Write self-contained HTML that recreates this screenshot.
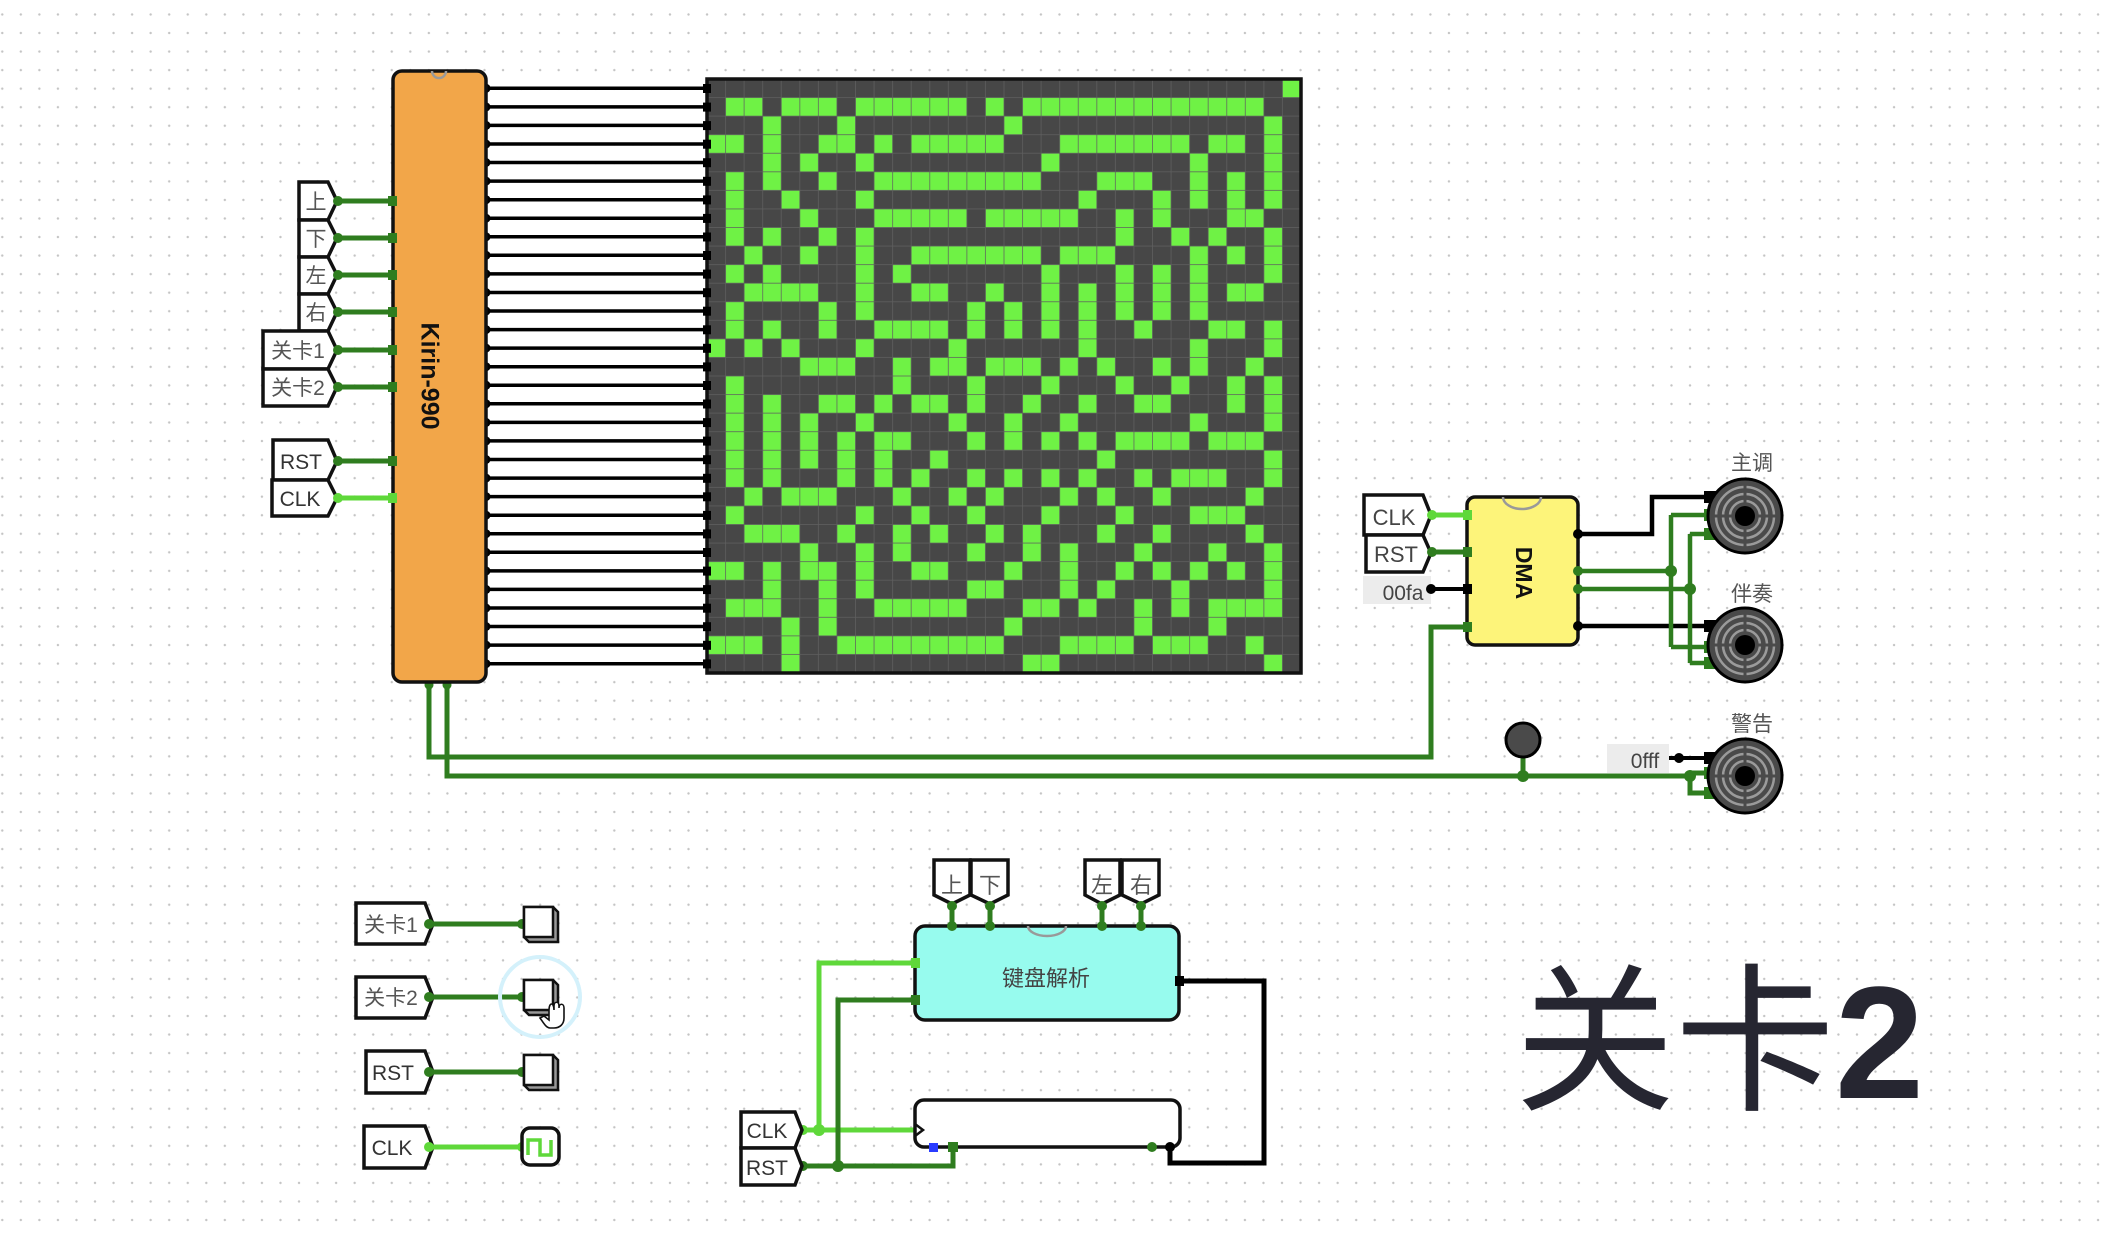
<!DOCTYPE html>
<html><head><meta charset="utf-8">
<style>
html,body{margin:0;padding:0;background:#fff;}
body{width:2108px;height:1236px;overflow:hidden;position:relative;
background-image:radial-gradient(circle,#c4c4c4 1px,transparent 1.4px);
background-size:18.56px 18.56px;background-position:-7px 5.2px;}
svg{position:absolute;left:0;top:0;}
text{font-family:"Liberation Sans","Noto Sans CJK SC",sans-serif;}
</style></head><body>
<svg width="2108" height="1236" viewBox="0 0 2108 1236" xmlns="http://www.w3.org/2000/svg">
<defs>
<pattern id="gl" width="1" height="1" patternUnits="userSpaceOnUse">
<rect width="1" height="1" fill="none" stroke="#606060" stroke-width="0.04"/>
</pattern>
<g id="spk">
<circle r="37" fill="#4a4a4a" stroke="#000" stroke-width="3"/>
<circle r="29" fill="none" stroke="#9a9a9a" stroke-width="2.5"/>
<circle r="22" fill="none" stroke="#9a9a9a" stroke-width="2.5"/>
<circle r="15" fill="none" stroke="#9a9a9a" stroke-width="2.5"/>
<line x1="-33" y1="0" x2="33" y2="0" stroke="#4a4a4a" stroke-width="3"/>
<line x1="0" y1="-33" x2="0" y2="33" stroke="#4a4a4a" stroke-width="3"/>
<circle r="10" fill="#000"/>
</g>
</defs>

<g stroke="#000" stroke-width="3.5">
<path d="M486 88.3H707M486 106.9H707M486 125.4H707M486 144H707M486 162.5H707M486 181.1H707M486 199.7H707M486 218.2H707M486 236.8H707M486 255.3H707M486 273.9H707M486 292.5H707M486 311H707M486 329.6H707M486 348.1H707M486 366.7H707M486 385.3H707M486 403.8H707M486 422.4H707M486 440.9H707M486 459.5H707M486 478.1H707M486 496.6H707M486 515.2H707M486 533.7H707M486 552.3H707M486 570.9H707M486 589.4H707M486 608H707M486 626.5H707M486 645.1H707M486 663.7H707"/>
</g>

<svg x="707" y="79" width="594" height="594" viewBox="0 0 32 32" preserveAspectRatio="none">
<rect width="32" height="32" fill="#474747"/>
<g fill="#6ff245">
<rect x="31" y="0" width="1" height="1"/>
<rect x="1" y="1" width="2" height="1"/><rect x="4" y="1" width="3" height="1"/><rect x="8" y="1" width="6" height="1"/><rect x="15" y="1" width="1" height="1"/><rect x="17" y="1" width="13" height="1"/>
<rect x="3" y="2" width="1" height="1"/><rect x="7" y="2" width="1" height="1"/><rect x="16" y="2" width="1" height="1"/><rect x="30" y="2" width="1" height="1"/>
<rect x="0" y="3" width="2" height="1"/><rect x="3" y="3" width="1" height="1"/><rect x="6" y="3" width="2" height="1"/><rect x="9" y="3" width="1" height="1"/><rect x="11" y="3" width="5" height="1"/><rect x="19" y="3" width="7" height="1"/><rect x="27" y="3" width="2" height="1"/><rect x="30" y="3" width="1" height="1"/>
<rect x="3" y="4" width="1" height="1"/><rect x="5" y="4" width="1" height="1"/><rect x="8" y="4" width="1" height="1"/><rect x="18" y="4" width="1" height="1"/><rect x="26" y="4" width="1" height="1"/><rect x="30" y="4" width="1" height="1"/>
<rect x="1" y="5" width="1" height="1"/><rect x="3" y="5" width="1" height="1"/><rect x="6" y="5" width="1" height="1"/><rect x="9" y="5" width="9" height="1"/><rect x="21" y="5" width="3" height="1"/><rect x="26" y="5" width="1" height="1"/><rect x="28" y="5" width="1" height="1"/><rect x="30" y="5" width="1" height="1"/>
<rect x="1" y="6" width="1" height="1"/><rect x="4" y="6" width="1" height="1"/><rect x="8" y="6" width="1" height="1"/><rect x="20" y="6" width="1" height="1"/><rect x="24" y="6" width="1" height="1"/><rect x="26" y="6" width="1" height="1"/><rect x="28" y="6" width="1" height="1"/><rect x="30" y="6" width="1" height="1"/>
<rect x="1" y="7" width="1" height="1"/><rect x="5" y="7" width="1" height="1"/><rect x="9" y="7" width="5" height="1"/><rect x="15" y="7" width="5" height="1"/><rect x="22" y="7" width="1" height="1"/><rect x="24" y="7" width="1" height="1"/><rect x="28" y="7" width="2" height="1"/>
<rect x="1" y="8" width="1" height="1"/><rect x="3" y="8" width="1" height="1"/><rect x="6" y="8" width="1" height="1"/><rect x="8" y="8" width="1" height="1"/><rect x="22" y="8" width="1" height="1"/><rect x="25" y="8" width="1" height="1"/><rect x="27" y="8" width="1" height="1"/><rect x="30" y="8" width="1" height="1"/>
<rect x="2" y="9" width="1" height="1"/><rect x="5" y="9" width="1" height="1"/><rect x="8" y="9" width="1" height="1"/><rect x="11" y="9" width="7" height="1"/><rect x="19" y="9" width="3" height="1"/><rect x="26" y="9" width="1" height="1"/><rect x="28" y="9" width="1" height="1"/><rect x="30" y="9" width="1" height="1"/>
<rect x="1" y="10" width="1" height="1"/><rect x="3" y="10" width="1" height="1"/><rect x="8" y="10" width="1" height="1"/><rect x="10" y="10" width="1" height="1"/><rect x="18" y="10" width="1" height="1"/><rect x="22" y="10" width="1" height="1"/><rect x="24" y="10" width="1" height="1"/><rect x="26" y="10" width="1" height="1"/><rect x="30" y="10" width="1" height="1"/>
<rect x="2" y="11" width="4" height="1"/><rect x="8" y="11" width="1" height="1"/><rect x="11" y="11" width="2" height="1"/><rect x="15" y="11" width="1" height="1"/><rect x="18" y="11" width="1" height="1"/><rect x="20" y="11" width="1" height="1"/><rect x="22" y="11" width="1" height="1"/><rect x="24" y="11" width="1" height="1"/><rect x="26" y="11" width="1" height="1"/><rect x="28" y="11" width="2" height="1"/>
<rect x="1" y="12" width="1" height="1"/><rect x="6" y="12" width="1" height="1"/><rect x="8" y="12" width="1" height="1"/><rect x="14" y="12" width="1" height="1"/><rect x="16" y="12" width="1" height="1"/><rect x="18" y="12" width="1" height="1"/><rect x="20" y="12" width="1" height="1"/><rect x="22" y="12" width="1" height="1"/><rect x="24" y="12" width="1" height="1"/><rect x="26" y="12" width="1" height="1"/>
<rect x="1" y="13" width="1" height="1"/><rect x="3" y="13" width="1" height="1"/><rect x="6" y="13" width="1" height="1"/><rect x="9" y="13" width="4" height="1"/><rect x="14" y="13" width="1" height="1"/><rect x="16" y="13" width="1" height="1"/><rect x="18" y="13" width="1" height="1"/><rect x="20" y="13" width="1" height="1"/><rect x="23" y="13" width="1" height="1"/><rect x="27" y="13" width="2" height="1"/><rect x="30" y="13" width="1" height="1"/>
<rect x="0" y="14" width="1" height="1"/><rect x="2" y="14" width="1" height="1"/><rect x="4" y="14" width="1" height="1"/><rect x="8" y="14" width="1" height="1"/><rect x="13" y="14" width="1" height="1"/><rect x="20" y="14" width="1" height="1"/><rect x="26" y="14" width="1" height="1"/><rect x="30" y="14" width="1" height="1"/>
<rect x="5" y="15" width="3" height="1"/><rect x="10" y="15" width="1" height="1"/><rect x="12" y="15" width="2" height="1"/><rect x="15" y="15" width="3" height="1"/><rect x="19" y="15" width="1" height="1"/><rect x="21" y="15" width="1" height="1"/><rect x="24" y="15" width="1" height="1"/><rect x="26" y="15" width="1" height="1"/><rect x="29" y="15" width="1" height="1"/>
<rect x="1" y="16" width="1" height="1"/><rect x="10" y="16" width="1" height="1"/><rect x="14" y="16" width="1" height="1"/><rect x="18" y="16" width="1" height="1"/><rect x="22" y="16" width="1" height="1"/><rect x="25" y="16" width="1" height="1"/><rect x="28" y="16" width="1" height="1"/><rect x="30" y="16" width="1" height="1"/>
<rect x="1" y="17" width="1" height="1"/><rect x="3" y="17" width="1" height="1"/><rect x="6" y="17" width="2" height="1"/><rect x="9" y="17" width="1" height="1"/><rect x="11" y="17" width="2" height="1"/><rect x="14" y="17" width="1" height="1"/><rect x="17" y="17" width="1" height="1"/><rect x="20" y="17" width="1" height="1"/><rect x="23" y="17" width="2" height="1"/><rect x="28" y="17" width="1" height="1"/><rect x="30" y="17" width="1" height="1"/>
<rect x="1" y="18" width="1" height="1"/><rect x="3" y="18" width="1" height="1"/><rect x="5" y="18" width="1" height="1"/><rect x="8" y="18" width="1" height="1"/><rect x="13" y="18" width="1" height="1"/><rect x="16" y="18" width="1" height="1"/><rect x="19" y="18" width="1" height="1"/><rect x="26" y="18" width="1" height="1"/><rect x="30" y="18" width="1" height="1"/>
<rect x="1" y="19" width="1" height="1"/><rect x="3" y="19" width="1" height="1"/><rect x="5" y="19" width="1" height="1"/><rect x="7" y="19" width="1" height="1"/><rect x="9" y="19" width="2" height="1"/><rect x="14" y="19" width="1" height="1"/><rect x="16" y="19" width="1" height="1"/><rect x="18" y="19" width="1" height="1"/><rect x="20" y="19" width="1" height="1"/><rect x="22" y="19" width="4" height="1"/><rect x="27" y="19" width="3" height="1"/>
<rect x="1" y="20" width="1" height="1"/><rect x="3" y="20" width="1" height="1"/><rect x="5" y="20" width="1" height="1"/><rect x="7" y="20" width="1" height="1"/><rect x="9" y="20" width="1" height="1"/><rect x="12" y="20" width="1" height="1"/><rect x="21" y="20" width="1" height="1"/><rect x="30" y="20" width="1" height="1"/>
<rect x="1" y="21" width="1" height="1"/><rect x="3" y="21" width="1" height="1"/><rect x="7" y="21" width="1" height="1"/><rect x="9" y="21" width="1" height="1"/><rect x="11" y="21" width="1" height="1"/><rect x="14" y="21" width="1" height="1"/><rect x="16" y="21" width="1" height="1"/><rect x="18" y="21" width="1" height="1"/><rect x="20" y="21" width="1" height="1"/><rect x="23" y="21" width="1" height="1"/><rect x="25" y="21" width="3" height="1"/><rect x="30" y="21" width="1" height="1"/>
<rect x="2" y="22" width="1" height="1"/><rect x="4" y="22" width="3" height="1"/><rect x="10" y="22" width="1" height="1"/><rect x="13" y="22" width="1" height="1"/><rect x="15" y="22" width="1" height="1"/><rect x="19" y="22" width="1" height="1"/><rect x="21" y="22" width="1" height="1"/><rect x="24" y="22" width="1" height="1"/><rect x="29" y="22" width="1" height="1"/>
<rect x="1" y="23" width="1" height="1"/><rect x="8" y="23" width="1" height="1"/><rect x="11" y="23" width="1" height="1"/><rect x="14" y="23" width="1" height="1"/><rect x="18" y="23" width="1" height="1"/><rect x="22" y="23" width="1" height="1"/><rect x="26" y="23" width="3" height="1"/>
<rect x="2" y="24" width="3" height="1"/><rect x="7" y="24" width="1" height="1"/><rect x="10" y="24" width="1" height="1"/><rect x="12" y="24" width="1" height="1"/><rect x="15" y="24" width="1" height="1"/><rect x="17" y="24" width="1" height="1"/><rect x="21" y="24" width="1" height="1"/><rect x="24" y="24" width="1" height="1"/><rect x="29" y="24" width="1" height="1"/>
<rect x="5" y="25" width="1" height="1"/><rect x="8" y="25" width="1" height="1"/><rect x="10" y="25" width="1" height="1"/><rect x="14" y="25" width="1" height="1"/><rect x="17" y="25" width="1" height="1"/><rect x="19" y="25" width="1" height="1"/><rect x="23" y="25" width="1" height="1"/><rect x="27" y="25" width="1" height="1"/><rect x="30" y="25" width="1" height="1"/>
<rect x="0" y="26" width="2" height="1"/><rect x="3" y="26" width="1" height="1"/><rect x="5" y="26" width="2" height="1"/><rect x="8" y="26" width="1" height="1"/><rect x="11" y="26" width="2" height="1"/><rect x="16" y="26" width="1" height="1"/><rect x="19" y="26" width="1" height="1"/><rect x="22" y="26" width="1" height="1"/><rect x="24" y="26" width="1" height="1"/><rect x="26" y="26" width="1" height="1"/><rect x="28" y="26" width="1" height="1"/><rect x="30" y="26" width="1" height="1"/>
<rect x="3" y="27" width="1" height="1"/><rect x="6" y="27" width="1" height="1"/><rect x="8" y="27" width="1" height="1"/><rect x="14" y="27" width="2" height="1"/><rect x="19" y="27" width="1" height="1"/><rect x="21" y="27" width="1" height="1"/><rect x="25" y="27" width="1" height="1"/><rect x="30" y="27" width="1" height="1"/>
<rect x="1" y="28" width="3" height="1"/><rect x="6" y="28" width="1" height="1"/><rect x="9" y="28" width="5" height="1"/><rect x="17" y="28" width="2" height="1"/><rect x="20" y="28" width="1" height="1"/><rect x="23" y="28" width="1" height="1"/><rect x="25" y="28" width="1" height="1"/><rect x="27" y="28" width="3" height="1"/><rect x="30" y="28" width="1" height="1"/>
<rect x="4" y="29" width="1" height="1"/><rect x="6" y="29" width="1" height="1"/><rect x="16" y="29" width="1" height="1"/><rect x="23" y="29" width="1" height="1"/><rect x="27" y="29" width="1" height="1"/>
<rect x="0" y="30" width="3" height="1"/><rect x="4" y="30" width="1" height="1"/><rect x="7" y="30" width="9" height="1"/><rect x="19" y="30" width="4" height="1"/><rect x="24" y="30" width="3" height="1"/><rect x="29" y="30" width="1" height="1"/>
<rect x="4" y="31" width="1" height="1"/><rect x="17" y="31" width="2" height="1"/><rect x="30" y="31" width="1" height="1"/>
</g>
<rect width="32" height="32" fill="url(#gl)"/>
</svg>
<rect x="707" y="79" width="594" height="594" fill="none" stroke="#111" stroke-width="3.5"/>

<g fill="#000">
<circle cx="486" cy="88.3" r="4.5"/><circle cx="486" cy="106.9" r="4.5"/><circle cx="486" cy="125.4" r="4.5"/><circle cx="486" cy="144" r="4.5"/><circle cx="486" cy="162.5" r="4.5"/><circle cx="486" cy="181.1" r="4.5"/><circle cx="486" cy="199.7" r="4.5"/><circle cx="486" cy="218.2" r="4.5"/><circle cx="486" cy="236.8" r="4.5"/><circle cx="486" cy="255.3" r="4.5"/><circle cx="486" cy="273.9" r="4.5"/><circle cx="486" cy="292.5" r="4.5"/><circle cx="486" cy="311" r="4.5"/><circle cx="486" cy="329.6" r="4.5"/><circle cx="486" cy="348.1" r="4.5"/><circle cx="486" cy="366.7" r="4.5"/><circle cx="486" cy="385.3" r="4.5"/><circle cx="486" cy="403.8" r="4.5"/><circle cx="486" cy="422.4" r="4.5"/><circle cx="486" cy="440.9" r="4.5"/><circle cx="486" cy="459.5" r="4.5"/><circle cx="486" cy="478.1" r="4.5"/><circle cx="486" cy="496.6" r="4.5"/><circle cx="486" cy="515.2" r="4.5"/><circle cx="486" cy="533.7" r="4.5"/><circle cx="486" cy="552.3" r="4.5"/><circle cx="486" cy="570.9" r="4.5"/><circle cx="486" cy="589.4" r="4.5"/><circle cx="486" cy="608" r="4.5"/><circle cx="486" cy="626.5" r="4.5"/><circle cx="486" cy="645.1" r="4.5"/><circle cx="486" cy="663.7" r="4.5"/>
</g>
<g fill="#000">
<rect x="703" y="84" width="8" height="9"/><rect x="703" y="102.6" width="8" height="9"/><rect x="703" y="121.1" width="8" height="9"/><rect x="703" y="139.7" width="8" height="9"/><rect x="703" y="158.2" width="8" height="9"/><rect x="703" y="176.8" width="8" height="9"/><rect x="703" y="195.4" width="8" height="9"/><rect x="703" y="213.9" width="8" height="9"/><rect x="703" y="232.5" width="8" height="9"/><rect x="703" y="251" width="8" height="9"/><rect x="703" y="269.6" width="8" height="9"/><rect x="703" y="288.2" width="8" height="9"/><rect x="703" y="306.7" width="8" height="9"/><rect x="703" y="325.3" width="8" height="9"/><rect x="703" y="343.8" width="8" height="9"/><rect x="703" y="362.4" width="8" height="9"/><rect x="703" y="381" width="8" height="9"/><rect x="703" y="399.5" width="8" height="9"/><rect x="703" y="418.1" width="8" height="9"/><rect x="703" y="436.6" width="8" height="9"/><rect x="703" y="455.2" width="8" height="9"/><rect x="703" y="473.8" width="8" height="9"/><rect x="703" y="492.3" width="8" height="9"/><rect x="703" y="510.9" width="8" height="9"/><rect x="703" y="529.4" width="8" height="9"/><rect x="703" y="548" width="8" height="9"/><rect x="703" y="566.6" width="8" height="9"/><rect x="703" y="585.1" width="8" height="9"/><rect x="703" y="603.7" width="8" height="9"/><rect x="703" y="622.2" width="8" height="9"/><rect x="703" y="640.8" width="8" height="9"/><rect x="703" y="659.4" width="8" height="9"/>
</g>

<g fill="none" stroke-width="5" stroke-linejoin="miter">
<path d="M429 682V757H1431V627H1467" stroke="#2f7d1f"/>
<path d="M447 682V776H1690" stroke="#2f7d1f"/>
<path d="M1523 740V776" stroke="#2f7d1f"/>
<path d="M1690 776V793H1712M1690 776V773H1712" stroke="#2f7d1f"/>
</g>
<circle cx="1523" cy="776" r="6" fill="#2f7d1f"/>
<circle cx="1690" cy="776" r="6" fill="#2f7d1f"/>
<circle cx="429" cy="685" r="4.5" fill="#2f7d1f"/><circle cx="447" cy="685" r="4.5" fill="#2f7d1f"/>

<rect x="393" y="71" width="93" height="611" rx="9" fill="#f2a649" stroke="#111" stroke-width="3.5"/>
<path d="M432 71a7 7 0 0 0 14 0" fill="none" stroke="#999" stroke-width="2.5"/>
<text transform="translate(428,376) rotate(90)" text-anchor="middle" font-size="25" font-weight="bold" fill="#111" dominant-baseline="middle">Kirin-990</text>

<g fill="#fff" stroke="#111" stroke-width="3.5">
<path d="M299 182H328L337 201L328 220H299Z"/>
<path d="M299 220H328L337 238L328 257H299Z"/>
<path d="M299 257H328L337 275L328 294H299Z"/>
<path d="M299 294H328L337 312L328 331H299Z"/>
<path d="M263 331H328L337 350L328 369H263Z"/>
<path d="M263 369H328L337 387L328 406H263Z"/>
<path d="M273 440H328L337 461L328 480H273Z"/>
<path d="M272 480H328L337 498L328 516H272Z"/>
</g>
<g font-size="21" fill="#555" text-anchor="middle">
<text x="316" y="209">上</text><text x="316" y="246">下</text><text x="316" y="283">左</text><text x="316" y="320">右</text>
<text x="298" y="358">关卡1</text><text x="298" y="395">关卡2</text>
<text x="301" y="469" fill="#333">RST</text><text x="300" y="506" fill="#333">CLK</text>
</g>
<g stroke-width="5">
<path d="M337 201H393M337 238H393M337 275H393M337 312H393M337 350H393M337 387H393M337 461H393" stroke="#2f7d1f"/>
<path d="M337 498H393" stroke="#5fd83a"/>
</g>
<g fill="#2f7d1f">
<circle cx="338" cy="201" r="5"/><circle cx="338" cy="238" r="5"/><circle cx="338" cy="275" r="5"/><circle cx="338" cy="312" r="5"/><circle cx="338" cy="350" r="5"/><circle cx="338" cy="387" r="5"/><circle cx="338" cy="461" r="5"/>
<rect x="388" y="196" width="9" height="10"/><rect x="388" y="233" width="9" height="10"/><rect x="388" y="270" width="9" height="10"/><rect x="388" y="307" width="9" height="10"/><rect x="388" y="345" width="9" height="10"/><rect x="388" y="382" width="9" height="10"/><rect x="388" y="456" width="9" height="10"/>
</g>
<circle cx="338" cy="498" r="5" fill="#5fd83a"/><rect x="388" y="493" width="9" height="10" fill="#5fd83a"/>

<g fill="#fff" stroke="#111" stroke-width="3.5">
<path d="M1364 495H1423L1431 515L1423 535H1364Z"/>
<path d="M1366 535H1423L1431 553L1423 572H1366Z"/>
</g>
<rect x="1363" y="576" width="68" height="28" fill="#ececec"/>
<text x="1394" y="525" font-size="22" fill="#444" text-anchor="middle">CLK</text>
<text x="1396" y="562" font-size="22" fill="#444" text-anchor="middle">RST</text>
<text x="1403" y="600" font-size="21" fill="#444" text-anchor="middle">00fa</text>
<path d="M1431 515H1467" stroke="#5fd83a" stroke-width="5"/>
<path d="M1431 552H1467" stroke="#2f7d1f" stroke-width="5"/>
<path d="M1431 589H1467" stroke="#000" stroke-width="4"/>
<circle cx="1432" cy="515" r="5" fill="#5fd83a"/><circle cx="1432" cy="552" r="5" fill="#2f7d1f"/><circle cx="1431" cy="589" r="5" fill="#000"/>

<g fill="none" stroke-width="4.5">
<path d="M1578 534H1652V497H1712" stroke="#000"/>
<path d="M1578 626H1712" stroke="#000"/>
<path d="M1578 571H1671M1671 515V647M1671 515H1712M1671 647H1712" stroke="#2f7d1f"/>
<path d="M1578 589H1690M1690 534V663M1690 534H1712M1690 663H1712" stroke="#2f7d1f"/>
</g>
<circle cx="1671" cy="571" r="6" fill="#2f7d1f"/><circle cx="1690" cy="589" r="6" fill="#2f7d1f"/>

<rect x="1467" y="497" width="111" height="148" rx="8" fill="#fdf47a" stroke="#111" stroke-width="3.5"/>
<path d="M1503 497a19 12 0 0 0 38 0" fill="none" stroke="#999" stroke-width="2.5"/>
<text transform="translate(1522,573) rotate(90)" text-anchor="middle" font-size="23" font-weight="bold" fill="#111" dominant-baseline="middle">DMA</text>
<g fill="#5fd83a"><rect x="1463" y="510" width="9" height="10"/></g>
<g fill="#2f7d1f"><rect x="1463" y="547" width="9" height="10"/><rect x="1463" y="622" width="9" height="10"/><circle cx="1578" cy="571" r="5"/><circle cx="1578" cy="589" r="5"/></g>
<g fill="#000"><rect x="1463" y="584" width="9" height="10"/><circle cx="1578" cy="534" r="5"/><circle cx="1578" cy="626" r="5"/></g>

<g fill="#000"><rect x="1704" y="491" width="12" height="12"/><rect x="1704" y="620" width="12" height="12"/><rect x="1704" y="752" width="12" height="12"/></g>
<g fill="#2f7d1f"><rect x="1704" y="509" width="12" height="12"/><rect x="1704" y="528" width="12" height="12"/><rect x="1704" y="641" width="12" height="12"/><rect x="1704" y="657" width="12" height="12"/><rect x="1704" y="767" width="12" height="12"/><rect x="1704" y="787" width="12" height="12"/></g>
<use href="#spk" x="1745" y="516"/>
<use href="#spk" x="1745" y="645"/>
<use href="#spk" x="1745" y="776"/>
<g font-size="21" fill="#555" text-anchor="middle">
<text x="1752" y="470">主调</text><text x="1752" y="601">伴奏</text><text x="1752" y="731">警告</text>
</g>
<rect x="1607" y="744" width="62" height="29" fill="#ececec"/>
<text x="1645" y="768" font-size="21" fill="#444" text-anchor="middle">0fff</text>
<path d="M1669 758H1712" stroke="#000" stroke-width="4"/><circle cx="1679" cy="758" r="5" fill="#000"/>
<circle cx="1523" cy="740" r="17" fill="#4a4a4a" stroke="#000" stroke-width="3"/>

<g fill="#fff" stroke="#111" stroke-width="3.5">
<path d="M356 903H425L433 924L425 944H356Z"/>
<path d="M356 977H425L433 997L425 1018H356Z"/>
<path d="M366 1051H425L433 1072L425 1093H366Z"/>
<path d="M364 1126H425L433 1147L425 1168H364Z"/>
</g>
<g font-size="21" fill="#555" text-anchor="middle">
<text x="391" y="932">关卡1</text><text x="391" y="1005">关卡2</text>
<text x="393" y="1080" fill="#333">RST</text><text x="392" y="1155" fill="#333">CLK</text>
</g>
<path d="M433 924H522M433 997H522M433 1072H522" stroke="#2f7d1f" stroke-width="5"/>
<path d="M433 1147H522" stroke="#5fd83a" stroke-width="5"/>
<g fill="#2f7d1f"><circle cx="429" cy="924" r="5"/><circle cx="522" cy="924" r="5"/><circle cx="429" cy="997" r="5"/><circle cx="522" cy="997" r="5"/><circle cx="429" cy="1072" r="5"/><circle cx="522" cy="1072" r="5"/></g>
<circle cx="429" cy="1147" r="5" fill="#5fd83a"/><circle cx="522" cy="1147" r="5" fill="#5fd83a"/>
<circle cx="540" cy="997" r="40" fill="none" stroke="#d4f1fb" stroke-width="4"/>
<g stroke="#111" stroke-width="2.5">
<path d="M524 907H553L558 912V942H529L524 937Z" fill="#999"/><rect x="524" y="907" width="29" height="30" fill="#fff"/>
<path d="M524 980H553L558 985V1015H529L524 1010Z" fill="#999"/><rect x="524" y="980" width="29" height="30" fill="#fff"/>
<path d="M524 1055H553L558 1060V1090H529L524 1085Z" fill="#999"/><rect x="524" y="1055" width="29" height="30" fill="#fff"/>
</g>
<rect x="522" y="1128" width="37" height="37" rx="8" fill="#fff" stroke="#111" stroke-width="3.5"/>
<path d="M528 1155V1140H540V1155H551V1140" fill="none" stroke="#5fd83a" stroke-width="3.5"/>
<path d="M549 1010c0-8 5-8 5 0v-4c0-5 5-5 5 0v2c0-5 5-5 5 0v10c0 6-4 10-10 10h-4c-4 0-7-6-10-10l4-2 5 4z" fill="#fff" stroke="#111" stroke-width="1.6"/>

<g fill="none" stroke-width="5">
<path d="M819 1130V963H915" stroke="#5fd83a"/>
<path d="M800 1130H915" stroke="#5fd83a"/>
<path d="M838 1166V1000H915" stroke="#2f7d1f"/>
<path d="M800 1166H953V1148" stroke="#2f7d1f"/>
<path d="M952 903V926M990 903V926M1102 903V926M1141 903V926" stroke="#2f7d1f"/>
</g>
<path d="M1179 981H1264V1163H1170V1146" fill="none" stroke="#000" stroke-width="5"/>
<g fill="#fff" stroke="#111" stroke-width="3.5">
<path d="M934 860H970V895L952 904L934 895Z"/>
<path d="M971 860H1008V895L990 904L971 895Z"/>
<path d="M1085 860H1120V895L1102 904L1085 895Z"/>
<path d="M1122 860H1159V895L1141 904L1122 895Z"/>
</g>
<g font-size="22" fill="#555" text-anchor="middle">
<text x="952" y="893">上</text><text x="990" y="893">下</text><text x="1102" y="893">左</text><text x="1141" y="893">右</text>
</g>
<rect x="915" y="926" width="264" height="94" rx="10" fill="#97fbee" stroke="#111" stroke-width="3.5"/>
<path d="M1028 926a19 10 0 0 0 38 0" fill="none" stroke="#999" stroke-width="2.5"/>
<text x="1046" y="986" font-size="22" fill="#444" text-anchor="middle">键盘解析</text>
<g fill="#2f7d1f"><circle cx="952" cy="906" r="5"/><circle cx="990" cy="906" r="5"/><circle cx="1102" cy="906" r="5"/><circle cx="1141" cy="906" r="5"/>
<circle cx="952" cy="926" r="5"/><circle cx="990" cy="926" r="5"/><circle cx="1102" cy="926" r="5"/><circle cx="1141" cy="926" r="5"/>
<rect x="911" y="995" width="9" height="10"/><circle cx="838" cy="1166" r="6"/><circle cx="803" cy="1166" r="5"/></g>
<rect x="911" y="958" width="9" height="10" fill="#5fd83a"/>
<circle cx="819" cy="1130" r="6" fill="#5fd83a"/><circle cx="803" cy="1130" r="5" fill="#5fd83a"/>
<rect x="1175" y="976" width="9" height="10" fill="#000"/>

<rect x="915" y="1100" width="265" height="47" rx="9" fill="#fff" stroke="#111" stroke-width="3.5"/>
<path d="M915 1124L923 1130L915 1136" fill="none" stroke="#111" stroke-width="2.5"/>
<rect x="929" y="1143" width="9" height="9" fill="#2a3cff"/>
<rect x="948" y="1142" width="10" height="10" fill="#2f7d1f"/>
<circle cx="1152" cy="1147" r="5" fill="#2f7d1f"/>
<circle cx="1170" cy="1147" r="5" fill="#000"/>

<g fill="#fff" stroke="#111" stroke-width="3.5">
<path d="M741 1112H795L802 1130L795 1148H741Z"/>
<path d="M741 1148H795L802 1166L795 1185H741Z"/>
</g>
<text x="767" y="1138" font-size="21" fill="#333" text-anchor="middle">CLK</text>
<text x="767" y="1175" font-size="21" fill="#333" text-anchor="middle">RST</text>

<text x="1515" y="1098" font-size="160" fill="#262631" font-family="Noto Sans CJK SC, sans-serif" font-weight="400">关卡<tspan font-weight="bold">2</tspan></text>
</svg>
</body></html>
